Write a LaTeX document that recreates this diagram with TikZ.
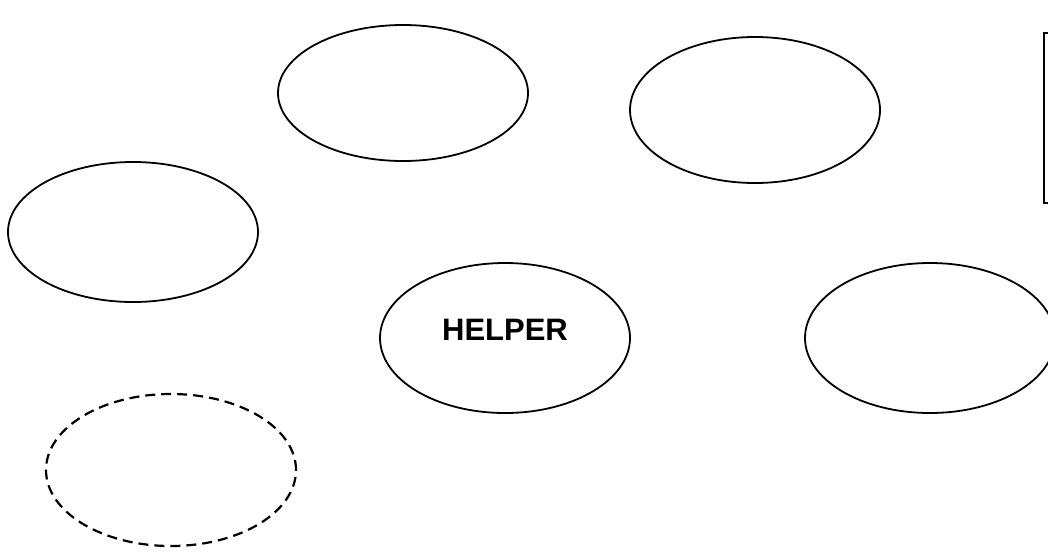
\documentclass[tikz,border=0pt]{standalone}
\usepackage{fontspec}
\setmainfont{Liberation Sans}
\usetikzlibrary{shapes.geometric}
\tikzset{
  oval/.style={draw=black, line width=1.8pt, ellipse, inner sep=0pt, minimum width=250pt, minimum height=#1},
  oval/.default=146pt,
  dashedoval/.style={oval=152pt, line width=2.2pt, dash pattern=on 10pt off 6pt},
  sidebox/.style={draw=black, line width=1.9pt, rectangle, inner sep=0pt, minimum width=40pt, minimum height=170pt},
  lbl/.style={font=\bfseries\fontsize{31}{36}\selectfont}
}
\begin{document}
\begin{tikzpicture}[x=1pt,y=-1pt]
\useasboundingbox (0,0) rectangle (1048,552);
\clip (0,0) rectangle (1048,552);
\node[oval=136pt] (top) at (403,93) {};
\node[oval=146pt] (topright) at (755,110) {};
\node[oval=140pt] (left) at (133,232) {};
\node[oval=150pt] (helper) at (505,338) {};
\node[lbl] (helpertext) at (505,330) {HELPER};
\node[oval=150pt] (right) at (930,338) {};
\node[dashedoval] (dashed) at (171,470) {};
\node[sidebox, anchor=north west] (box) at (1043,32) {};
\end{tikzpicture}
\end{document}
